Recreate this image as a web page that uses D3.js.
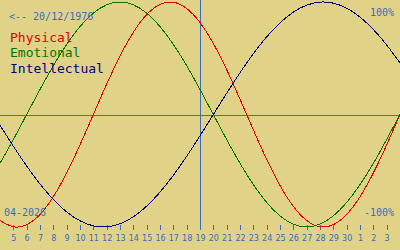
<!DOCTYPE html>
<html>
<head>
<meta charset="utf-8">
<script src="https://cdn.jsdelivr.net/npm/d3@7"></script>
<style>
  html, body { margin: 0; padding: 0; background: #e0d388; }
  svg { display: block; }
</style>
</head>
<body>
<div id="chart"></div>
<script>
// biorhythm values, one per day, left edge = 04/04/2026, right edge = 04/05/2026
const physical = [-0.9423, -0.9977, -0.9791, -0.8879, -0.7308, -0.5196, -0.2698, 0,
  0.2698, 0.5196, 0.7308, 0.8879, 0.9791, 0.9977, 0.9423, 0.8170, 0.6311, 0.3984,
  0.1362, -0.1362, -0.3984, -0.6311, -0.8170, -0.9423, -0.9977, -0.9791, -0.8879,
  -0.7308, -0.5196, -0.2698, 0];
const emotional = [-0.4339, -0.2225, 0, 0.2225, 0.4339, 0.6235, 0.7818, 0.9010,
  0.9749, 1, 0.9749, 0.9010, 0.7818, 0.6235, 0.4339, 0.2225, 0, -0.2225, -0.4339,
  -0.6235, -0.7818, -0.9010, -0.9749, -1, -0.9749, -0.9010, -0.7818, -0.6235,
  -0.4339, -0.2225, 0];
const intellectual = [-0.0951, -0.2817, -0.4582, -0.6182, -0.7557, -0.8660, -0.9450,
  -0.9898, -0.9989, -0.9718, -0.9096, -0.8146, -0.6901, -0.5406, -0.3717, -0.1893, 0,
  0.1893, 0.3717, 0.5406, 0.6901, 0.8146, 0.9096, 0.9718, 0.9989, 0.9898, 0.9450,
  0.8660, 0.7557, 0.6182, 0.4582];

// tick labels (day of month), placed at day index 1..29
const dayLabels = [5, 6, 7, 8, 9, 10, 11, 12, 13, 14, 15, 16, 17, 18, 19, 20, 21, 22,
  23, 24, 25, 26, 27, 28, 29, 30, 1, 2, 3];
const today = 19;

const seriesNames = ["Physical", "Emotional", "Intellectual"];
const seriesColors = ["#e00000", "#007800", "#000080"];
const birthLabel = "<-- 20/12/1976";
const monthLabel = "04-2026";
const topLabel = "100%";
const bottomLabel = "-100%";

const width = 400, height = 250;
const blue = "#3a6cc0";
const mono = "DejaVu Sans Mono";

const svg = d3.select("#chart").append("svg")
  .attr("width", width)
  .attr("height", height);

svg.append("rect")
  .attr("width", width)
  .attr("height", height)
  .attr("fill", "#e0d388");

const x = d3.scaleLinear().domain([0, physical.length - 1]).range([0, width]);
const y = d3.scaleLinear().domain([-1, 1]).range([227, 2]);

// zero line
const y0 = Math.round(y(0)) + 0.5;
svg.append("line")
  .attr("x1", 0).attr("x2", width)
  .attr("y1", y0).attr("y2", y0)
  .attr("stroke", "#4a6ca8")
  .attr("shape-rendering", "crispEdges");

// day axis
const axis = d3.axisBottom(x)
  .tickValues(d3.range(1, dayLabels.length + 1))
  .tickFormat(i => dayLabels[i - 1])
  .tickSize(5)
  .tickPadding(5);

const gAxis = svg.append("g")
  .attr("transform", "translate(0,225)")
  .attr("color", blue)
  .call(axis);
gAxis.select(".domain").remove();
gAxis.selectAll("line").attr("shape-rendering", "crispEdges");
gAxis.selectAll("text")
  .style("font-family", "DejaVu Sans")
  .style("font-size", "8px");

// today marker
const xt = Math.round(x(dayLabels.indexOf(today) + 1)) + 0.5;
svg.append("line")
  .attr("x1", xt).attr("x2", xt)
  .attr("y1", 0).attr("y2", 230)
  .attr("stroke", blue)
  .attr("shape-rendering", "crispEdges");

// curves
const line = d3.line()
  .x((d, i) => x(i))
  .y(d => y(d))
  .curve(d3.curveNatural);

[physical, emotional, intellectual].forEach((s, i) => {
  svg.append("path")
    .datum(s)
    .attr("d", line)
    .attr("fill", "none")
    .attr("stroke", seriesColors[i])
    .attr("stroke-width", 1)
    .attr("shape-rendering", "crispEdges");
});

// texts
svg.append("text")
  .attr("x", 9).attr("y", 20)
  .attr("fill", blue)
  .style("font-family", mono).style("font-size", "10px")
  .text(birthLabel);

svg.selectAll(".legend")
  .data(seriesNames)
  .enter().append("text")
  .attr("class", "legend")
  .attr("x", 10)
  .attr("y", (d, i) => 42 + i * 15.3)
  .attr("fill", (d, i) => seriesColors[i])
  .style("font-family", mono).style("font-size", "13px")
  .text(d => d);

svg.append("text")
  .attr("x", 4).attr("y", 216)
  .attr("fill", blue)
  .style("font-family", mono).style("font-size", "10px")
  .text(monthLabel);

svg.append("text")
  .attr("x", 394).attr("y", 16)
  .attr("text-anchor", "end")
  .attr("fill", blue)
  .style("font-family", mono).style("font-size", "10px")
  .text(topLabel);

svg.append("text")
  .attr("x", 394).attr("y", 216)
  .attr("text-anchor", "end")
  .attr("fill", blue)
  .style("font-family", mono).style("font-size", "10px")
  .text(bottomLabel);
</script>
</body>
</html>
